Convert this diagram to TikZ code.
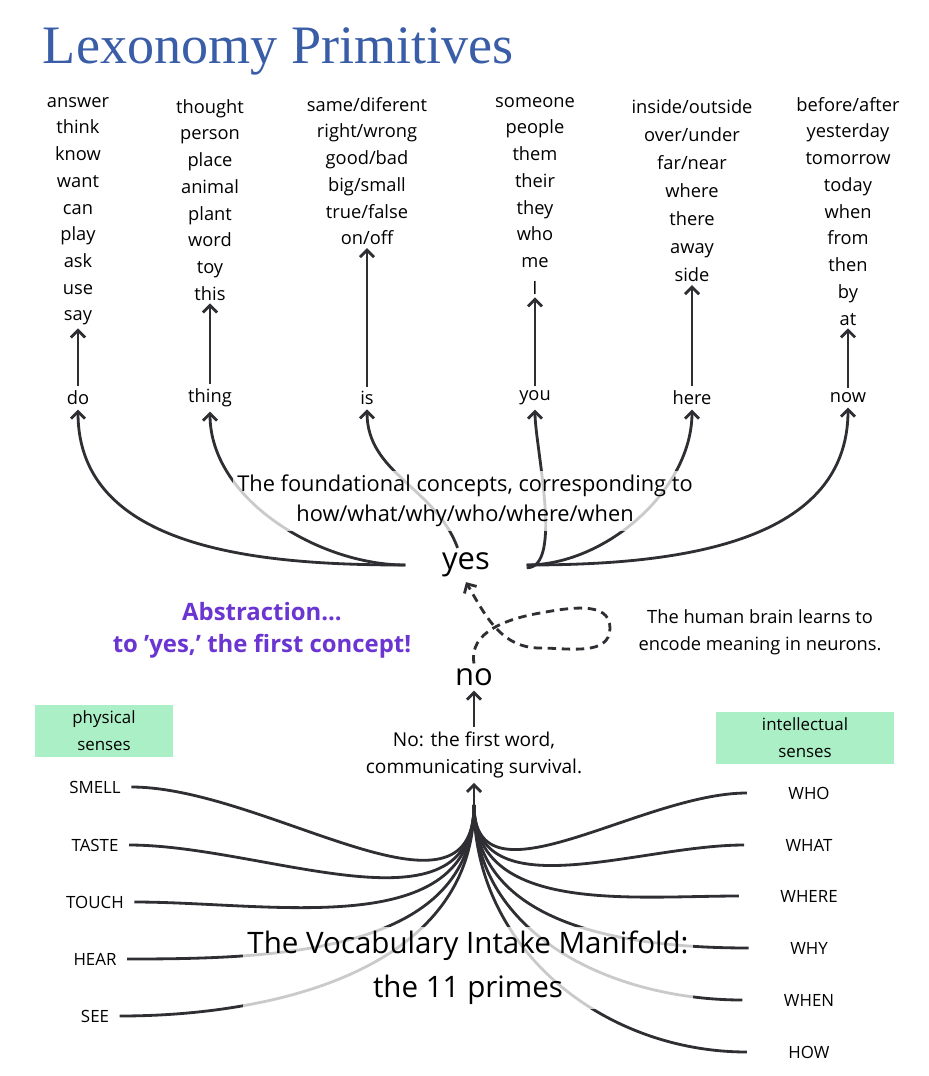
\documentclass[tikz,border=0pt]{standalone}
\usepackage{fontspec}
\setmainfont{Open Sans}
\newfontfamily\titlefont{Liberation Serif}
\usetikzlibrary{arrows.meta, positioning, backgrounds}
\definecolor{titleblue}{HTML}{3A5DA8}
\definecolor{abstractpurple}{HTML}{6A35D0}
\definecolor{sensegreen}{HTML}{ABEFC6}
\definecolor{ink}{HTML}{2E2E33}

\tikzset{
  wordlist/.style={align=center, anchor=north, inner sep=0pt,
    font=\fontsize{13}{19}\selectfont},
  prim/.style={font=\fontsize{13}{16}\selectfont, inner sep=3pt},
  sense/.style={font=\fontsize{12}{15}\selectfont},
  sensebox/.style={fill=sensegreen, align=center, minimum width=3.45cm,
    minimum height=1.3cm, font=\fontsize{12}{19}\selectfont},
  veil/.style={fill=white, fill opacity=0.75, text opacity=1, align=center},
  link/.style={draw=ink, line width=2pt},
  tip/.style={-{Straight Barb[length=5pt,width=10pt]}}
}

\begin{document}
\begin{tikzpicture}[x=0.025cm, y=-0.025cm]
  \useasboundingbox (0,0) rectangle (928,1076);

  \node[anchor=base west, titleblue, font=\titlefont\fontsize{38.5}{42}\selectfont] (title) at (38,64) {Lexonomy Primitives};

  % word lists
  \node[wordlist] (dolist) at (78,97) {answer\\think\\know\\want\\can\\play\\ask\\use\\say};
  \node[wordlist] (thinglist) at (210,99) {thought\\person\\place\\animal\\plant\\word\\toy\\this};
  \node[wordlist] (islist) at (367,97) {same/diferent\\right/wrong\\good/bad\\big/small\\true/false\\on/off};
  \node[wordlist] (youlist) at (535,97) {someone\\people\\them\\their\\they\\who\\me\\I};
  \node[wordlist, font=\fontsize{13}{20}\selectfont] (herelist) at (692,99) {inside/outside\\over/under\\far/near\\where\\there\\away\\side};
  \node[wordlist] (nowlist) at (848,97) {before/after\\yesterday\\tomorrow\\today\\when\\from\\then\\by\\at};

  % primitives
  \node[prim] (do) at (78,398) {do};
  \node[prim] (thing) at (210,398) {thing};
  \node[prim] (is) at (367,398) {is};
  \node[prim] (you) at (535,398) {you};
  \node[prim] (here) at (692,398) {here};
  \node[prim] (now) at (848,398) {now};

  \foreach \p in {do,thing,is,you,here,now}
    \draw[link, tip, shorten >=2pt] (\p) -- (\p list);

  \node[font=\fontsize{22}{24}\selectfont, inner xsep=26pt] (yes) at (466,565) {yes};
  \node[font=\fontsize{22}{24}\selectfont] (no) at (474,677) {no};

  \node[veil, font=\fontsize{15.5}{21}\selectfont] (found) at (465,501) {The foundational concepts, corresponding to\\how/what/why/who/where/when};

  \begin{scope}[on background layer]
    \draw[link, tip] (yes.west) to[out=180, in=-90] (do.south);
    \draw[link, tip] (yes.west) to[out=180, in=-90, looseness=0.9] (thing.south);
    \draw[link, tip] ([xshift=-6pt]yes.north) to[out=110, in=-90] (is.south);
    \draw[link, tip] ([yshift=-2pt]yes.east) to[out=0, in=-90, looseness=0.6] (you.south);
    \draw[link, tip] (yes.east) to[out=0, in=-90, looseness=0.9] (here.south);
    \draw[link, tip] (yes.east) to[out=0, in=-90] (now.south);
  \end{scope}

  % abstraction loop
  \coordinate (loopR) at (610,628);
  \draw[link, tip, dashed, dash pattern=on 6pt off 4pt] (no.north) to[out=100, in=190] (540,613)
    to[out=10, in=90] (loopR) to[out=-90, in=0] (540,648)
    to[out=180, in=-60] (yes.south);

  \node[font=\fontsize{13}{19}\selectfont, align=center] (brain) at (760,632) {The human brain learns to\\encode meaning in neurons.};
  \node[font=\bfseries\fontsize{17}{23}\selectfont, abstractpurple, align=center] (abstr) at (262,630) {Abstraction...\\to 'yes,' the first concept!};

  \node[font=\fontsize{13.6}{19}\selectfont, align=center] (noword) at (474,755) {No: the first word,\\communicating survival.};
  \draw[link, tip] (noword) -- (no);

  \coordinate (hub) at (474,805);
  \draw[link, tip] (hub) -- (noword.south);

  \node[sensebox] (phys) at (104,731) {physical\\senses};
  \node[sensebox, minimum width=4.43cm] (intel) at (805,738) {intellectual\\senses};

  % senses
  \node[sense] (smell) at (95,787) {SMELL};
  \node[sense] (taste) at (95,845) {TASTE};
  \node[sense] (touch) at (95,902) {TOUCH};
  \node[sense] (hear) at (95,959) {HEAR};
  \node[sense] (see) at (95,1016) {SEE};
  \node[sense] (who) at (809,793) {WHO};
  \node[sense] (what) at (809,845) {WHAT};
  \node[sense] (where) at (809,896) {WHERE};
  \node[sense] (why) at (809,948) {WHY};
  \node[sense] (when) at (809,1000) {WHEN};
  \node[sense] (how) at (809,1052) {HOW};

  \node[veil, font=\fontsize{21}{31}\selectfont] (manifold) at (468,968) {The Vocabulary Intake Manifold:\\the 11 primes};

  \begin{scope}[on background layer]
    \foreach \s in {smell,taste,touch,hear,see}
      \draw[link] ([xshift=4pt]\s.east) to[out=0, in=-90] (hub);
    \foreach \s in {who,what,where,why,when,how}
      \draw[link] (hub) to[out=-90, in=180] ([xshift=-26pt]\s.west);
  \end{scope}
\end{tikzpicture}
\end{document}
